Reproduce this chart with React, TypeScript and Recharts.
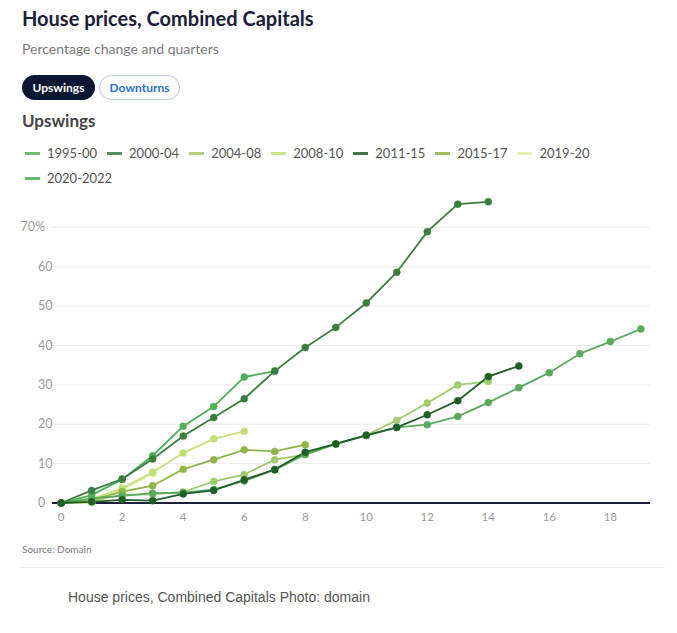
import { LineChart, Line, XAxis, YAxis, ReferenceLine } from "recharts";

// quarters since start of each upswing (index = quarter)
const upswing1995 = [0, 1.2, 1.8, 2.5, 2.6, 3.4, 5.6, 8.4, 12.3, 15, 17.2, 19.2, 19.9, 22, 25.5, 29.3, 33.1, 37.9, 41, 44.2];
const upswing2000 = [0, 3.2, 6.1, 11.2, 17, 21.7, 26.5, 33.5, 39.5, 44.6, 50.8, 58.6, 68.9, 75.9, 76.5];
const upswing2004 = [0, 0.5, 2.1, 2.2, 2.8, 5.5, 7.2, 11, 12.3, 15, 17.2, 21, 25.4, 30, 30.9];
const upswing2008 = [0, 1, 3.8, 7.8, 12.7, 16.3, 18.2];
const upswing2011 = [0, 0.3, 0.8, 0.6, 2.3, 3.2, 5.9, 8.5, 12.9, 15, 17.2, 19.2, 22.4, 26, 32.1, 34.8];
const upswing2015 = [0, 0.8, 2.9, 4.4, 8.6, 11, 13.5, 13.1, 14.8];
const upswing2019 = [0, 0, 3.4, 7.5];
const upswing2020 = [0, 2, 6, 12, 19.5, 24.5, 32, 33.5];

const xTicks = [0, 2, 4, 6, 8, 10, 12, 14, 16, 18];
const yTicks = [0, 10, 20, 30, 40, 50, 60, 70];

const series = [
  { name: "1995-00", values: upswing1995, color: "#5aa95c" },
  { name: "2000-04", values: upswing2000, color: "#3b7d3f" },
  { name: "2004-08", values: upswing2004, color: "#9fcb6b" },
  { name: "2008-10", values: upswing2008, color: "#c4df74" },
  { name: "2011-15", values: upswing2011, color: "#1f5e27" },
  { name: "2015-17", values: upswing2015, color: "#8fb447" },
  { name: "2019-20", values: upswing2019, color: "#e0ee9c" },
  { name: "2020-2022", values: upswing2020, color: "#4fae57" },
];

// draw order: lighter lines underneath
const drawOrder = ["2019-20", "2008-10", "2004-08", "2015-17", "1995-00", "2020-2022", "2000-04", "2011-15"];

const font = "Lato, 'Open Sans', sans-serif";

const YTick = (props: any) => {
  const { y, payload } = props;
  const top = payload.value === 70;
  return (
    <text x={top ? 45 : 38} y={y + 4} textAnchor={top ? "end" : "start"} fill="#9a9a9a" fontSize={12.5} fontFamily={font}>
      {top ? "70%" : payload.value}
    </text>
  );
};

export default function App() {
  return (
    <div style={{ position: "absolute", left: 0, top: 0, width: 677, height: 633, background: "#fff", fontFamily: font }}>
      <div style={{ position: "absolute", left: 22, top: 6, fontSize: 20, fontWeight: 700, color: "#1b2038" }}>
        House prices, Combined Capitals
      </div>
      <div style={{ position: "absolute", left: 22, top: 40, fontSize: 14, color: "#7a7a7a" }}>
        Percentage change and quarters
      </div>
      <div style={{ position: "absolute", left: 22, top: 75, width: 73, height: 25, borderRadius: 13, background: "#0b1633", color: "#fff", fontSize: 12, fontWeight: 700, display: "flex", alignItems: "center", justifyContent: "center" }}>
        Upswings
      </div>
      <div style={{ position: "absolute", left: 99, top: 75, width: 79, height: 23, borderRadius: 13, border: "1px solid #b9c9e3", color: "#2c6fd1", fontSize: 12, fontWeight: 700, display: "flex", alignItems: "center", justifyContent: "center" }}>
        Downturns
      </div>
      <div style={{ position: "absolute", left: 22, top: 110, fontSize: 17, fontWeight: 700, color: "#444" }}>
        Upswings
      </div>
      <div style={{ position: "absolute", left: 25, top: 144, width: 590, display: "flex", flexWrap: "wrap", columnGap: 10, rowGap: 7 }}>
        {series.map((s) => (
          <div key={s.name} style={{ display: "flex", alignItems: "center", fontSize: 13, color: "#555", height: 18 }}>
            <span style={{ display: "inline-block", width: 15, height: 3, background: s.color, marginRight: 7, opacity: 0.85 }} />
            {s.name}
          </div>
        ))}
      </div>
      <div style={{ position: "absolute", left: 0, top: 0 }}>
        <LineChart width={677} height={540} margin={{ top: 188, right: 27, bottom: 7, left: 12 }}>
          <XAxis
            type="number"
            dataKey="q"
            domain={[-0.3, 19.3]}
            ticks={xTicks}
            axisLine={false}
            tickLine={false}
            height={30}
            tick={{ fill: "#9a9a9a", fontSize: 11.5, fontFamily: font, dy: 2 }}
            allowDuplicatedCategory={false}
          />
          <YAxis
            type="number"
            domain={[0, 80]}
            ticks={yTicks}
            axisLine={false}
            tickLine={false}
            width={40}
            tick={<YTick />}
          />
          {yTicks.filter((t) => t > 0).map((t) => (
            <ReferenceLine key={t} y={t} stroke="#ececec" strokeWidth={1} />
          ))}
          <ReferenceLine y={0} stroke="#1b2038" strokeWidth={2} />
          {drawOrder.map((n) => {
            const s = series.find((d) => d.name === n)!;
            return (
              <Line
                key={s.name}
                data={s.values.map((v, i) => ({ q: i, v }))}
                dataKey="v"
                type="linear"
                stroke={s.color}
                strokeWidth={1.8}
                dot={{ r: 3.5, fill: s.color, stroke: s.color, strokeWidth: 0.5 }}
                isAnimationActive={false}
              />
            );
          })}
        </LineChart>
      </div>
      <div style={{ position: "absolute", left: 22, top: 543, fontSize: 10, color: "#7a7a7a" }}>Source: Domain</div>
      <div style={{ position: "absolute", left: 20, top: 567, width: 645, height: 1, background: "#ececec" }} />
      <div style={{ position: "absolute", left: 68, top: 589, fontSize: 14, color: "#555", fontFamily: "'Liberation Sans', Arial, sans-serif" }}>
        House prices, Combined Capitals Photo: domain
      </div>
    </div>
  );
}
